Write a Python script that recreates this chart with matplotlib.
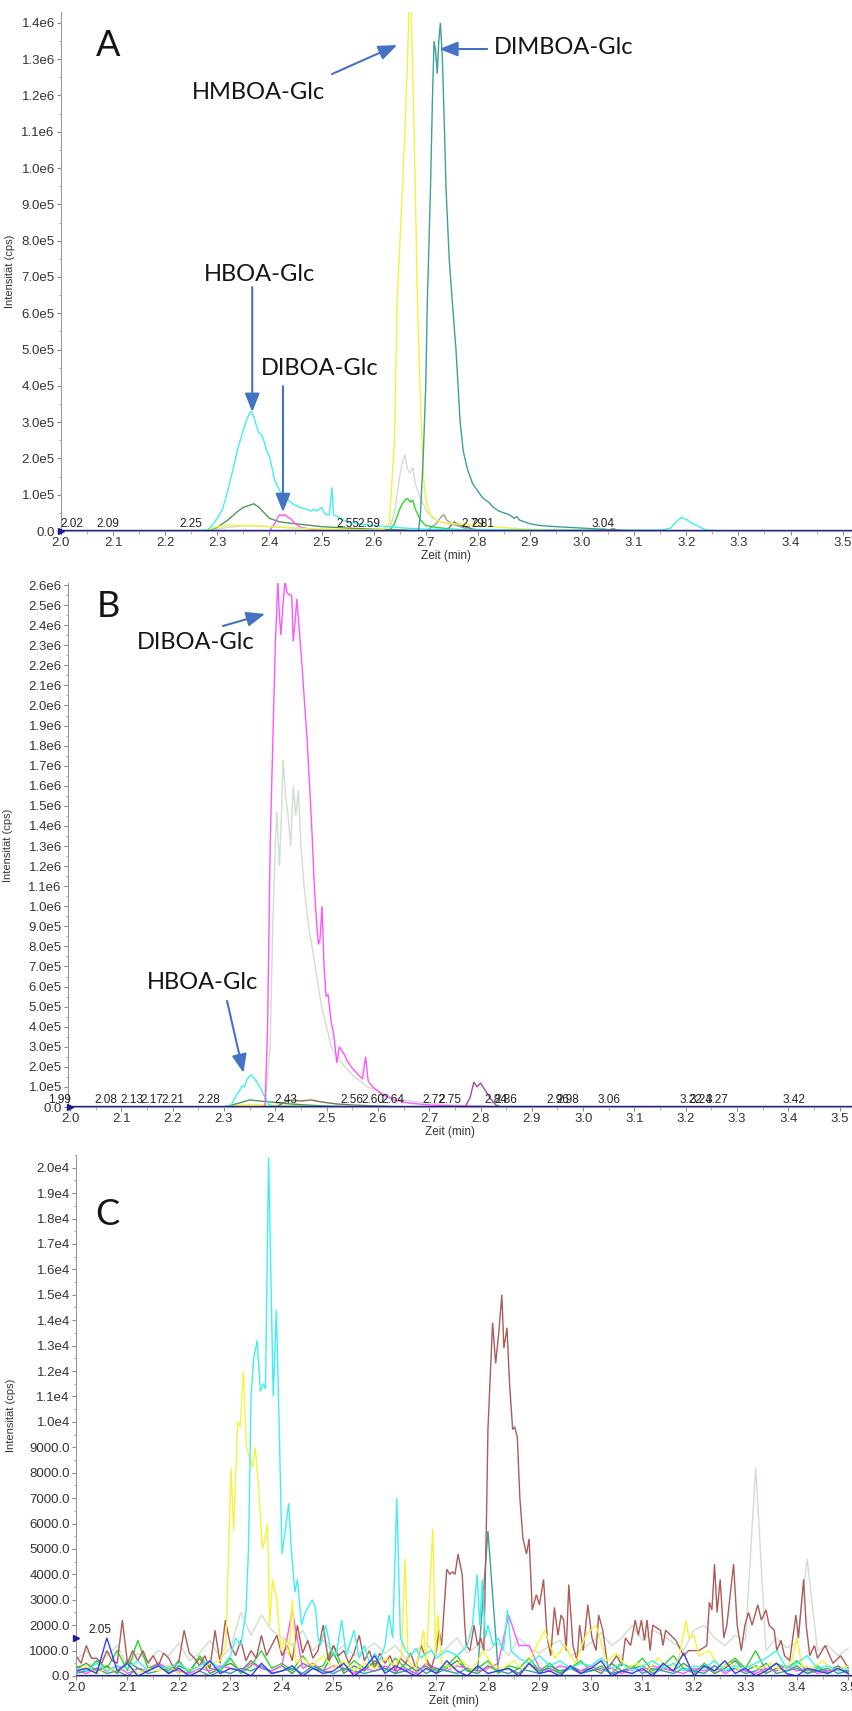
import numpy as np
import matplotlib
matplotlib.use("Agg")
import matplotlib.pyplot as plt
from matplotlib.ticker import MultipleLocator, AutoMinorLocator, FuncFormatter

plt.rcParams['font.family'] = ['Liberation Sans', 'DejaVu Sans']

# ---------------- Panel A data ----------------
A_cyan_t = [2.00, 2.20, 2.28, 2.29, 2.30, 2.31, 2.32, 2.33, 2.34, 2.35,
            2.36, 2.365, 2.37, 2.375, 2.38, 2.385, 2.39, 2.395, 2.40, 2.405,
            2.41, 2.42, 2.43, 2.44, 2.45, 2.46, 2.47, 2.48, 2.485, 2.49,
            2.50, 2.505, 2.51, 2.515, 2.52, 2.523, 2.53, 2.54, 2.55, 2.57,
            2.60, 2.63, 2.66, 2.70, 2.80, 3.00, 3.15, 3.17, 3.18, 3.19,
            3.20, 3.21, 3.22, 3.23, 3.24, 3.30, 3.52]
A_cyan_y = [0, 0, 2e3, 1.5e4, 3.5e4, 6e4, 1.1e5, 1.7e5, 2.3e5, 2.8e5,
            3.2e5, 3.3e5, 3.15e5, 2.9e5, 2.7e5, 2.65e5, 2.45e5, 2.2e5, 2.05e5, 1.75e5,
            1.4e5, 1.1e5, 9.5e4, 8e4, 7e4, 6.5e4, 6e4, 5.5e4, 6e4, 5.5e4,
            6.5e4, 5e4, 4.5e4, 4.5e4, 1.2e5, 4.5e4, 4e4, 3e4, 2.5e4, 2e4,
            1.5e4, 1.2e4, 8e3, 5e3, 3e3, 2e3, 2e3, 8e3, 2.5e4, 3.7e4,
            3.2e4, 2.2e4, 1.5e4, 8e3, 2e3, 0, 0]
A_yellow_t = [2.00, 2.28, 2.30, 2.33, 2.36, 2.40, 2.45, 2.50, 2.55, 2.60,
              2.62, 2.63, 2.64, 2.645, 2.65, 2.655, 2.66, 2.665, 2.668, 2.672,
              2.676, 2.68, 2.684, 2.69, 2.695, 2.70, 2.705, 2.71, 2.72, 2.73,
              2.75, 2.78, 2.80, 2.83, 2.86, 2.90, 3.00, 3.52]
A_yellow_y = [0, 2e3, 1.2e4, 1.6e4, 1.5e4, 1.2e4, 8e3, 5e3, 4e3, 3e3,
              5e3, 2e4, 2.5e5, 6.3e5, 7.8e5, 9.4e5, 1.1e6, 1.3e6, 1.45e6, 1.45e6,
              1.2e6, 9.4e5, 6.3e5, 3.5e5, 1.6e5, 9e4, 6e4, 4.5e4, 3e4, 2.5e4,
              2e4, 1.8e4, 1.5e4, 1.2e4, 8e3, 5e3, 2e3, 0]
A_teal_t = [2.00, 2.686, 2.69, 2.695, 2.70, 2.703, 2.709, 2.713, 2.716, 2.719,
            2.722, 2.725, 2.728, 2.732, 2.736, 2.739, 2.745, 2.751, 2.758, 2.762,
            2.766, 2.772, 2.78, 2.79, 2.80, 2.81, 2.82, 2.83, 2.84, 2.85,
            2.86, 2.87, 2.875, 2.88, 2.89, 2.90, 2.92, 2.95, 3.00, 3.05,
            3.10, 3.52]
A_teal_y = [0, 0, 5e4, 2e5, 4e5, 6.3e5, 9.4e5, 1.2e6, 1.35e6, 1.32e6,
            1.26e6, 1.35e6, 1.40e6, 1.3e6, 1.1e6, 9.4e5, 7.5e5, 6.3e5, 5.0e5, 4e5,
            3e5, 2.2e5, 1.7e5, 1.3e5, 1.1e5, 9e4, 8e4, 6.5e4, 5.5e4, 5e4,
            4.5e4, 3.5e4, 4e4, 3e4, 2.5e4, 2e4, 1.5e4, 1.2e4, 8e3, 4e3,
            0, 0]
A_gg_t = [2.00, 2.28, 2.32, 2.36, 2.40, 2.45, 2.50, 2.55, 2.60, 2.63,
          2.64, 2.65, 2.655, 2.66, 2.665, 2.67, 2.675, 2.68, 2.685, 2.69,
          2.70, 2.71, 2.72, 2.74, 2.76, 2.80, 2.85, 3.52]
A_gg_y = [0, 0, 1e4, 1.5e4, 1.2e4, 8e3, 5e3, 3e3, 2e3, 5e3,
          5e4, 1.5e5, 1.9e5, 2.1e5, 1.7e5, 1.6e5, 1.75e5, 1.3e5, 1.1e5, 9e4,
          6e4, 4e4, 3e4, 2e4, 1.5e4, 5e3, 2e3, 0]
A_green_t = [2.00, 2.63, 2.64, 2.65, 2.655, 2.66, 2.665, 2.67, 2.675, 2.68, 2.69, 2.70, 2.72, 2.75, 2.80, 3.52]
A_green_y = [0, 0, 2e4, 6e4, 7.5e4, 8.5e4, 9e4, 8e4, 8.5e4, 6e4, 3e4, 1.5e4, 1e4, 5e3, 2e3, 0]
A_dkgreen_t = [2.00, 2.28, 2.30, 2.32, 2.34, 2.35, 2.36, 2.37, 2.375, 2.38,
               2.39, 2.40, 2.42, 2.45, 2.50, 2.55, 2.60, 2.65, 2.70, 3.52]
A_dkgreen_y = [0, 0, 1e4, 3e4, 5.5e4, 6.5e4, 7e4, 7.5e4, 7e4, 6.5e4,
               5e4, 3.5e4, 2.5e4, 2e4, 1.2e4, 8e3, 5e3, 3e3, 0, 0]
A_pink_t = [2.00, 2.40, 2.41, 2.415, 2.42, 2.425, 2.43, 2.435, 2.44, 2.45, 2.46, 2.48, 2.52, 3.52]
A_pink_y = [0, 0, 2e4, 3.5e4, 4.5e4, 4.2e4, 4.5e4, 3.8e4, 3.5e4, 2e4, 1e4, 5e3, 0, 0]
A_gray_t = [2.00, 2.70, 2.72, 2.73, 2.735, 2.74, 2.75, 2.76, 2.78, 2.80, 3.52]
A_gray_y = [0, 0, 2e4, 4e4, 4.5e4, 3e4, 2e4, 1.5e4, 5e3, 0, 0]
A_olive_t = [2.00, 2.74, 2.75, 2.755, 2.76, 2.77, 2.79, 2.81, 3.52]
A_olive_y = [0, 0, 1.8e4, 2.5e4, 2e4, 1.5e4, 5e3, 0, 0]
A_red_t = [2.00, 3.02, 3.04, 3.05, 3.06, 3.07, 3.08, 3.52]
A_red_y = [0, 0, 5e3, 3e3, 6e3, 2e3, 0, 0]
A_peak_labels = ["2.02", "2.09", "2.25", "2.55", "2.59", "2.79", "2.81", "3.04"]

# ---------------- Panel B data ----------------
B_pink_t = [2.00, 2.370, 2.380, 2.385, 2.390, 2.395, 2.400, 2.405, 2.408, 2.411,
            2.415, 2.419, 2.423, 2.428, 2.432, 2.435, 2.438, 2.442, 2.446, 2.452,
            2.462, 2.471, 2.476, 2.481, 2.484, 2.487, 2.491, 2.495, 2.499, 2.503,
            2.509, 2.514, 2.520, 2.525, 2.530, 2.535, 2.540, 2.548, 2.555, 2.562,
            2.570, 2.576, 2.581, 2.590, 2.600, 2.610, 2.620, 2.630, 2.640, 2.650,
            2.660, 2.680, 2.700, 2.720, 2.750, 2.800, 2.850, 3.52]
B_pink_y = [0, 0, 5e3, 4e5, 1.3e6, 1.8e6, 2.3e6, 2.62e6, 2.45e6, 2.35e6,
            2.5e6, 2.62e6, 2.56e6, 2.55e6, 2.55e6, 2.32e6, 2.4e6, 2.53e6, 2.4e6, 2.2e6,
            1.83e6, 1.4e6, 1.1e6, 9e5, 8.1e5, 8.3e5, 1.0e6, 7e5, 5.5e5, 5.6e5,
            4.2e5, 3.6e5, 2.2e5, 3.0e5, 2.8e5, 2.6e5, 2.3e5, 2.0e5, 1.8e5, 1.6e5,
            1.4e5, 2.5e5, 1.3e5, 1.0e5, 8e4, 6e4, 5e4, 3.5e4, 3e4, 2.5e4,
            2e4, 1.5e4, 1e4, 8e3, 5e3, 3e3, 0, 0]
B_gg_t = [2.00, 2.38, 2.39, 2.395, 2.400, 2.403, 2.408, 2.412, 2.415, 2.42,
          2.425, 2.43, 2.435, 2.44, 2.445, 2.45, 2.456, 2.465, 2.478, 2.49,
          2.50, 2.509, 2.52, 2.536, 2.55, 2.565, 2.58, 2.60, 2.626, 2.66,
          2.70, 2.75, 2.80, 3.52]
B_gg_y = [0, 0, 3e5, 9e5, 1.3e6, 1.47e6, 1.2e6, 1.45e6, 1.73e6, 1.55e6,
          1.45e6, 1.3e6, 1.6e6, 1.45e6, 1.58e6, 1.3e6, 1.1e6, 9e5, 7e5, 5e5,
          4e5, 3e5, 2.5e5, 2e5, 1.6e5, 1.3e5, 1e5, 8e4, 5e4, 3e4,
          2e4, 1e4, 5e3, 0]
B_cyan_t = [2.00, 2.30, 2.314, 2.32, 2.33, 2.335, 2.34, 2.345, 2.353, 2.36, 2.37, 2.38, 2.388, 2.40, 3.52]
B_cyan_y = [0, 0, 1e4, 4e4, 8e4, 1.05e5, 1.0e5, 1.4e5, 1.6e5, 1.4e5, 1e5, 5e4, 1e4, 3e3, 0]
B_dkgreen_t = [2.00, 2.30, 2.33, 2.35, 2.37, 2.39, 2.41, 2.43, 2.46, 2.50, 2.55, 3.52]
B_dkgreen_y = [0, 0, 2e4, 3.5e4, 3e4, 2.5e4, 2e4, 1.5e4, 1e4, 5e3, 0, 0]
B_olive_t = [2.00, 2.40, 2.42, 2.43, 2.45, 2.47, 2.49, 2.52, 2.55, 2.60, 2.65, 3.52]
B_olive_y = [0, 0, 2.5e4, 3.5e4, 3e4, 3.5e4, 2.5e4, 1.5e4, 1e4, 5e3, 0, 0]
B_purple_t = [2.00, 2.77, 2.78, 2.787, 2.793, 2.80, 2.81, 2.82, 2.83, 2.84, 3.52]
B_purple_y = [0, 0, 5e4, 1.25e5, 1.0e5, 1.2e5, 8e4, 4e4, 1e4, 0, 0]
B_yellow_t = [2.00, 2.30, 2.33, 2.36, 2.40, 2.45, 2.50, 3.52]
B_yellow_y = [0, 0, 1e4, 1.2e4, 8e3, 4e3, 0, 0]
B_peak_labels = ["1.99", "2.08", "2.13", "2.17", "2.21", "2.28", "2.43", "2.56", "2.60",
                 "2.64", "2.72", "2.75", "2.84", "2.86", "2.96", "2.98", "3.06", "3.22",
                 "3.24", "3.27", "3.42"]

# ---------------- Panel C data ----------------
C_grid = np.round(np.arange(2.00, 3.5001, 0.02), 2)   # 76 sample times
C_blue = [200, 300, 100, 1500, 200, 500, 0, 200, 400, 100,
          300, 0, 200, 600, 100, 300, 200, 0, 500, 100,
          200, 400, 0, 300, 100, 200, 500, 0, 300, 800,
          100, 400, 200, 0, 300, 100, 600, 200, 0, 400,
          100, 200, 300, 0, 500, 100, 200, 0, 400, 100,
          300, 600, 0, 200, 100, 300, 0, 500, 200, 900,
          0, 400, 200, 600, 100, 300, 0, 200, 500, 100,
          0, 300, 200, 100, 300, 100]
C_green = [400, 200, 600, 300, 1000, 200, 1400, 300, 500, 200,
           600, 100, 800, 300, 200, 700, 100, 400, 1000, 300,
           500, 200, 800, 300, 400, 1200, 200, 600, 300, 500,
           200, 700, 300, 100, 500, 200, 400, 800, 200, 300,
           600, 100, 400, 300, 700, 200, 500, 100, 300, 600,
           200, 400, 100, 500, 300, 700, 200, 400, 800, 300,
           100, 500, 200, 400, 700, 300, 1000, 200, 500, 300,
           600, 200, 400, 100, 300, 200]
C_dkgreen = [300, 500, 200, 400, 100, 600, 300, 200, 500, 100,
             400, 200, 700, 100, 300, 500, 200, 600, 300, 200,
             400, 100, 500, 300, 200, 900, 100, 400, 200, 600,
             300, 100, 500, 200, 400, 100, 300, 600, 200, 100,
             400, 200, 300, 100, 500, 200, 300, 100, 400, 200,
             300, 100, 500, 200, 300, 400, 100, 300, 200, 500,
             200, 400, 100, 300, 600, 200, 400, 100, 300, 200,
             400, 100, 300, 200, 400, 100]
C_teal = [100, 200, 300, 100, 200, 0, 300, 100, 200, 400,
          100, 300, 200, 0, 200, 100, 300, 200, 400, 100,
          200, 300, 100, 400, 200, 100, 300, 200, 100, 200,
          300, 100, 200, 400, 100, 300, 200, 100, 300, 200,
          5700, 200, 100, 300, 200, 100, 400, 200, 300, 100,
          200, 300, 100, 200, 400, 100, 300, 200, 100, 300,
          200, 100, 400, 200, 300, 100, 200, 500, 100, 200,
          300, 100, 200, 300, 100, 200]
C_gg = [600, 1000, 500, 800, 1200, 400, 900, 600, 1000, 800,
        1300, 600, 900, 1400, 700, 1100, 2500, 1600, 2400, 1800,
        1500, 1200, 1800, 1000, 1400, 900, 1200, 800, 1000, 1300,
        900, 1200, 700, 1000, 1300, 800, 1100, 1500, 900, 1200,
        1000, 1300, 800, 1500, 1100, 900, 1200, 1400, 800, 1000,
        1300, 1700, 1200, 1500, 2000, 1400, 1800, 1600, 1300, 1000,
        1800, 2000, 1500, 1200, 1600, 1400, 8200, 1000, 1500, 1100,
        1300, 4600, 1000, 1200, 800, 1100]
C_magenta = [200, 100, 300, 200, 400, 100, 300, 200, 500, 300,
             200, 100, 300, 200, 400, 300, 200, 500, 300, 200,
             400, 2600, 300, 500, 200, 400, 300, 100, 300, 200,
             400, 200, 300, 100, 500, 300, 200, 400, 300, 200,
             300, 500, 2400, 1200, 1200, 300, 200, 400, 300, 200,
             400, 200, 300, 100, 300, 200, 400, 300, 200, 100,
             300, 200, 400, 100, 300, 200, 100, 300, 200, 400,
             200, 300, 100, 200, 300, 100]
C_cyan_t = [2.00, 2.02, 2.04, 2.06, 2.08, 2.10, 2.12, 2.14, 2.16, 2.18,
            2.20, 2.22, 2.24, 2.26, 2.28, 2.30, 2.31, 2.32, 2.33, 2.335,
            2.34, 2.345, 2.352, 2.358, 2.364, 2.368, 2.374, 2.383, 2.389, 2.395,
            2.40, 2.405, 2.413, 2.418, 2.425, 2.43, 2.438, 2.445, 2.459, 2.465,
            2.47, 2.475, 2.485, 2.495, 2.505, 2.516, 2.525, 2.54, 2.55, 2.56,
            2.57, 2.58, 2.59, 2.60, 2.608, 2.615, 2.623, 2.63, 2.64, 2.65,
            2.66, 2.67, 2.68, 2.69, 2.70, 2.72, 2.74, 2.76, 2.77, 2.779,
            2.784, 2.789, 2.795, 2.80, 2.81, 2.82, 2.83, 2.838, 2.845, 2.86,
            2.88, 2.90, 2.92, 2.94, 2.96, 2.98, 3.00, 3.02, 3.04, 3.06,
            3.08, 3.10, 3.12, 3.14, 3.16, 3.18, 3.20, 3.22, 3.24, 3.26,
            3.28, 3.30, 3.32, 3.34, 3.36, 3.38, 3.40, 3.42, 3.44, 3.46,
            3.48, 3.50]
C_cyan_y = [300, 200, 500, 200, 400, 300, 600, 200, 400, 300,
            500, 200, 400, 600, 300, 800, 1500, 1200, 2500, 5000,
            11000, 12500, 13200, 11200, 11500, 11300, 20400, 11000, 14400, 9500,
            4800, 5500, 6800, 5000, 3300, 3800, 2000, 2500, 3000, 2700,
            1500, 1200, 2000, 1000, 800, 2200, 800, 1800, 700, 1200,
            500, 900, 600, 1200, 2400, 1500, 7000, 1500, 1000, 800,
            1100, 700, 900, 1000, 700, 1000, 800, 1200, 2000, 4000,
            2000, 3800, 1500, 2000, 1200, 1500, 1000, 2600, 1000, 700,
            500, 800, 400, 600, 300, 500, 400, 700, 300, 500,
            200, 400, 600, 300, 500, 200, 400, 300, 600, 200,
            400, 300, 500, 700, 1000, 300, 500, 800, 300, 400,
            200, 300]
C_yellow_t = [2.00, 2.02, 2.04, 2.06, 2.08, 2.10, 2.12, 2.14, 2.16, 2.18,
              2.20, 2.22, 2.24, 2.26, 2.28, 2.291, 2.301, 2.306, 2.314, 2.319,
              2.325, 2.331, 2.338, 2.343, 2.348, 2.354, 2.362, 2.367, 2.372, 2.376,
              2.382, 2.39, 2.398, 2.406, 2.413, 2.42, 2.427, 2.44, 2.46, 2.48,
              2.50, 2.52, 2.54, 2.56, 2.58, 2.60, 2.62, 2.632, 2.639, 2.645,
              2.66, 2.675, 2.68, 2.693, 2.698, 2.703, 2.71, 2.73, 2.75, 2.77,
              2.79, 2.81, 2.83, 2.85, 2.87, 2.89, 2.91, 2.93, 2.95, 2.97,
              2.99, 3.01, 3.03, 3.05, 3.07, 3.09, 3.11, 3.13, 3.15, 3.17,
              3.185, 3.19, 3.20, 3.21, 3.23, 3.25, 3.27, 3.29, 3.31, 3.33,
              3.35, 3.37, 3.39, 3.40, 3.41, 3.43, 3.45, 3.47, 3.50]
C_yellow_y = [200, 400, 100, 300, 200, 500, 100, 300, 200, 400,
              100, 300, 200, 500, 600, 1200, 8200, 5700, 10000, 9800,
              12000, 9000, 8500, 8200, 9000, 7600, 5000, 5400, 6000, 2000,
              3800, 3000, 1000, 1500, 800, 3000, 500, 700, 400, 800,
              300, 600, 200, 500, 300, 700, 400, 800, 4600, 600,
              300, 1800, 400, 5800, 800, 2400, 500, 300, 600, 200,
              1000, 400, 300, 600, 200, 1000, 1800, 700, 1200, 500,
              1600, 2000, 600, 900, 300, 500, 200, 700, 300, 600,
              2200, 1500, 1600, 800, 1000, 300, 500, 200, 400, 300,
              500, 200, 600, 1500, 400, 300, 600, 200, 400]
C_brown_t = [2.00, 2.01, 2.02, 2.03, 2.04, 2.05, 2.06, 2.07, 2.08, 2.09,
             2.10, 2.11, 2.12, 2.13, 2.14, 2.15, 2.16, 2.17, 2.18, 2.19,
             2.20, 2.21, 2.22, 2.23, 2.24, 2.25, 2.26, 2.27, 2.28, 2.29,
             2.30, 2.31, 2.32, 2.33, 2.34, 2.35, 2.36, 2.37, 2.38, 2.39,
             2.40, 2.41, 2.42, 2.43, 2.44, 2.45, 2.46, 2.47, 2.48, 2.49,
             2.50, 2.51, 2.52, 2.53, 2.54, 2.55, 2.56, 2.57, 2.58, 2.59,
             2.60, 2.61, 2.62, 2.63, 2.64, 2.65, 2.66, 2.67, 2.68, 2.69,
             2.70, 2.705, 2.71, 2.72, 2.726, 2.731, 2.736, 2.742, 2.747, 2.75,
             2.755, 2.758, 2.765, 2.773, 2.78, 2.786, 2.792, 2.797, 2.800, 2.805,
             2.809, 2.815, 2.821, 2.827, 2.831, 2.837, 2.842, 2.848, 2.852, 2.857,
             2.862, 2.868, 2.875, 2.88, 2.886, 2.894, 2.90, 2.908, 2.915, 2.922,
             2.929, 2.936, 2.942, 2.947, 2.952, 2.957, 2.965, 2.973, 2.978, 2.985,
             2.994, 3.002, 3.01, 3.015, 3.023, 3.033, 3.04, 3.05, 3.06, 3.067,
             3.077, 3.086, 3.092, 3.098, 3.104, 3.109, 3.115, 3.12, 3.135, 3.14,
             3.145, 3.155, 3.165, 3.175, 3.18, 3.19, 3.21, 3.225, 3.23, 3.235,
             3.24, 3.245, 3.251, 3.258, 3.264, 3.277, 3.284, 3.292, 3.299, 3.306,
             3.313, 3.324, 3.331, 3.34, 3.346, 3.356, 3.361, 3.369, 3.376, 3.386,
             3.398, 3.403, 3.413, 3.418, 3.425, 3.434, 3.44, 3.455, 3.47, 3.485,
             3.50]
C_brown_y = [800, 500, 1200, 700, 700, 500, 1000, 600, 500, 2200,
             500, 1000, 600, 1000, 500, 800, 400, 900, 700, 300,
             600, 1800, 900, 700, 400, 800, 300, 1800, 500, 2200,
             1200, 800, 1400, 600, 1000, 700, 1600, 800, 1200, 1600,
             800, 1200, 600, 2000, 900, 1400, 700, 1000, 2000, 600,
             1200, 800, 1000, 500, 900, 1600, 600, 1000, 300, 900,
             500, 800, 200, 700, 500, 900, 300, 1200, 700, 300,
             1000, 1800, 1200, 4200, 4000, 4100, 4000, 4800, 4300, 4000,
             2000, 1200, 1000, 2000, 1200, 1500, 1000, 6000, 9700, 12000,
             13900, 12300, 13500, 15000, 12900, 13700, 11500, 9700, 9800, 9400,
             7000, 5400, 4800, 5400, 2600, 3200, 2800, 3800, 1500, 800,
             2700, 1600, 2400, 2200, 1000, 3600, 1200, 600, 2000, 1000,
             2800, 1500, 1000, 2400, 1800, 300, 500, 800, 400, 1500,
             1200, 2200, 1600, 2200, 1400, 2200, 1000, 2000, 1800, 1200,
             1800, 1600, 1400, 1000, 800, 1000, 1000, 1200, 2900, 2600,
             4400, 2500, 3800, 1500, 2000, 4400, 2000, 1000, 2000, 2500,
             2000, 2800, 2200, 2600, 2000, 1800, 1000, 1400, 800, 600,
             2400, 1500, 3800, 2000, 800, 1200, 700, 1200, 500, 800,
             300]

# ---------------- colours ----------------
COL = dict(cyan='#3ef0f0', yellow='#f4f43a', teal='#3f9f9a', gg='#cfdfcf',
           green='#2fd32f', dkgreen='#4f9a4f', pink='#ff55ff', gray='#a0a0a0',
           olive='#7a7452', red='#cc4444', purple='#9d4f9d', brown='#ad5a5a',
           blue='#3a3af5', navy='#1c1c96', arrow='#4472c4')

W, H = 852, 1711
fig = plt.figure(figsize=(W / 100, H / 100), dpi=100)


def add_ax(left, top, right, bottom):
    return fig.add_axes([left / W, 1 - bottom / H, (right - left) / W, (bottom - top) / H])


def yfmt(v, pos):
    if abs(v) < 1e-9:
        return "0.0"
    if v >= 1e4 - 1e-6:
        m, e = f"{v:.1e}".split("e")
        return f"{m}e{int(e)}"
    return f"{v:.1f}"


def style(ax, ystep, ylabx, wpx, hpx):
    for s in ('top', 'right'):
        ax.spines[s].set_visible(False)
    ax.spines['left'].set_color('#9a9a9a')
    ax.spines['bottom'].set_color('#9a9a9a')
    ax.xaxis.set_major_locator(MultipleLocator(0.1))
    ax.xaxis.set_minor_locator(AutoMinorLocator(2))
    ax.yaxis.set_major_locator(MultipleLocator(ystep))
    ax.yaxis.set_minor_locator(AutoMinorLocator(2))
    ax.xaxis.set_major_formatter(FuncFormatter(lambda v, p: f"{v:.1f}"))
    ax.yaxis.set_major_formatter(FuncFormatter(yfmt))
    ax.tick_params(which='major', length=3, width=0.8, color='#8a8a8a',
                   labelsize=9.5, labelcolor='#333333', pad=1.5)
    ax.tick_params(which='minor', length=1.8, width=0.6, color='#9a9a9a')
    ax.set_ylabel("Intensität (cps)", fontsize=8, color='#333333')
    ax.yaxis.set_label_coords(ylabx, 0.5)
    ax.set_xlabel("Zeit (min)", fontsize=8.5, color='#333333')
    ax.xaxis.set_label_coords(0.487, -19 / hpx)


def trace(ax, t, y, c, lw=1.0, z=2):
    ax.plot(t, y, color=c, lw=lw, zorder=z, solid_joinstyle='miter')


def arrow(ax, start, tip):
    ax.annotate("", xy=tip, xytext=start, annotation_clip=False,
                arrowprops=dict(arrowstyle="-|>,head_length=0.8,head_width=0.32",
                                color=COL['arrow'], lw=1.5, shrinkA=0, shrinkB=0,
                                mutation_scale=14))


ANN = dict(family=['Lato', 'DejaVu Sans'], color='#151515')

# ================= Panel A =================
axA = add_ax(61, 12, 852, 531)
axA.set_xlim(2.0, 3.518)
axA.set_ylim(0, 1.43e6)
style(axA, 1e5, (15 - 61) / 791, 791, 519)
trace(axA, A_gg_t, A_gg_y, COL['gg'])
trace(axA, A_red_t, A_red_y, COL['red'])
trace(axA, A_olive_t, A_olive_y, COL['olive'])
trace(axA, A_gray_t, A_gray_y, COL['gray'])
trace(axA, A_dkgreen_t, A_dkgreen_y, COL['dkgreen'])
trace(axA, A_green_t, A_green_y, COL['green'])
trace(axA, A_pink_t, A_pink_y, COL['pink'])
trace(axA, A_yellow_t, A_yellow_y, COL['yellow'])
trace(axA, A_cyan_t, A_cyan_y, COL['cyan'])
trace(axA, A_teal_t, A_teal_y, COL['teal'])
axA.axhline(0, color=COL['navy'], lw=2.4, zorder=4)
axA.plot([2.0], [0], marker='>', color=COL['navy'], ms=5, clip_on=False, zorder=6)
for lbl in A_peak_labels:
    axA.annotate(lbl, (float(lbl), 0), xytext=(0, 0.5), textcoords='offset points',
                 ha='center', va='bottom', fontsize=8.5, color='#222222',
                 annotation_clip=False, zorder=7)
axA.text(2.090, 1.339e6, "A", fontsize=26, ha='center', va='center', **ANN)
axA.text(2.378, 1.209e6, "HMBOA-Glc", fontsize=17, ha='center', va='center', **ANN)
axA.text(2.965, 1.331e6, "DIMBOA-Glc", fontsize=17, ha='center', va='center', **ANN)
axA.text(2.380, 7.08e5, "HBOA-Glc", fontsize=17, ha='center', va='center', **ANN)
axA.text(2.497, 4.49e5, "DIBOA-Glc", fontsize=17, ha='center', va='center', **ANN)
arrow(axA, (2.520, 1.259e6), (2.645, 1.339e6))
arrow(axA, (2.818, 1.328e6), (2.726, 1.328e6))
arrow(axA, (2.367, 6.72e5), (2.367, 3.28e5))
arrow(axA, (2.426, 3.99e5), (2.426, 5.2e4))

# ================= Panel B =================
axB = add_ax(68, 583, 852, 1107)
axB.set_xlim(1.996, 3.524)
axB.set_ylim(0, 2.61e6)
style(axB, 1e5, (13 - 68) / 784, 784, 524)
trace(axB, B_gg_t, B_gg_y, COL['gg'])
trace(axB, B_yellow_t, B_yellow_y, COL['yellow'])
trace(axB, B_dkgreen_t, B_dkgreen_y, COL['dkgreen'])
trace(axB, B_olive_t, B_olive_y, COL['olive'])
trace(axB, B_purple_t, B_purple_y, COL['purple'])
trace(axB, B_cyan_t, B_cyan_y, COL['cyan'])
trace(axB, B_pink_t, B_pink_y, COL['pink'])
axB.axhline(0, color=COL['navy'], lw=2.4, zorder=4)
axB.plot([2.0], [0], marker='>', color=COL['navy'], ms=5, clip_on=False, zorder=6)
for lbl in B_peak_labels:
    axB.annotate(lbl, (float(lbl) - 0.01, 0), xytext=(0, 0.5), textcoords='offset points',
                 ha='center', va='bottom', fontsize=8.5, color='#222222',
                 annotation_clip=False, zorder=7)
axB.text(2.074, 2.491e6, "B", fontsize=26, ha='center', va='center', **ANN)
axB.text(2.244, 2.316e6, "DIBOA-Glc", fontsize=17, ha='center', va='center', **ANN)
axB.text(2.259, 6.2e5, "HBOA-Glc", fontsize=17, ha='center', va='center', **ANN)
arrow(axB, (2.298, 2.396e6), (2.380, 2.456e6))
arrow(axB, (2.306, 5.28e5), (2.338, 1.7e5))

# ================= Panel C =================
axC = add_ax(76, 1155, 852, 1676)
axC.set_xlim(2.0, 3.507)
axC.set_ylim(0, 20500)
style(axC, 1000, (16 - 76) / 776, 776, 521)
trace(axC, C_grid, C_gg, COL['gg'])
trace(axC, C_grid, C_dkgreen, COL['dkgreen'])
trace(axC, C_grid, C_green, COL['green'])
trace(axC, C_grid, C_magenta, COL['pink'])
trace(axC, C_grid, C_teal, COL['teal'])
trace(axC, C_brown_t, C_brown_y, COL['brown'])
trace(axC, C_yellow_t, C_yellow_y, COL['yellow'])
trace(axC, C_cyan_t, C_cyan_y, COL['cyan'])
trace(axC, C_grid, C_blue, COL['blue'])
axC.axhline(0, color=COL['navy'], lw=1.6, zorder=4)
axC.plot([2.0], [1500], marker='>', color=COL['navy'], ms=5, clip_on=False, zorder=6)
axC.text(2.046, 1810, "2.05", fontsize=8.5, color='#222222', ha='center', va='center', zorder=7)
axC.text(2.060, 18150, "C", fontsize=26, ha='center', va='center', **ANN)

fig.savefig("out.png", dpi=100)
